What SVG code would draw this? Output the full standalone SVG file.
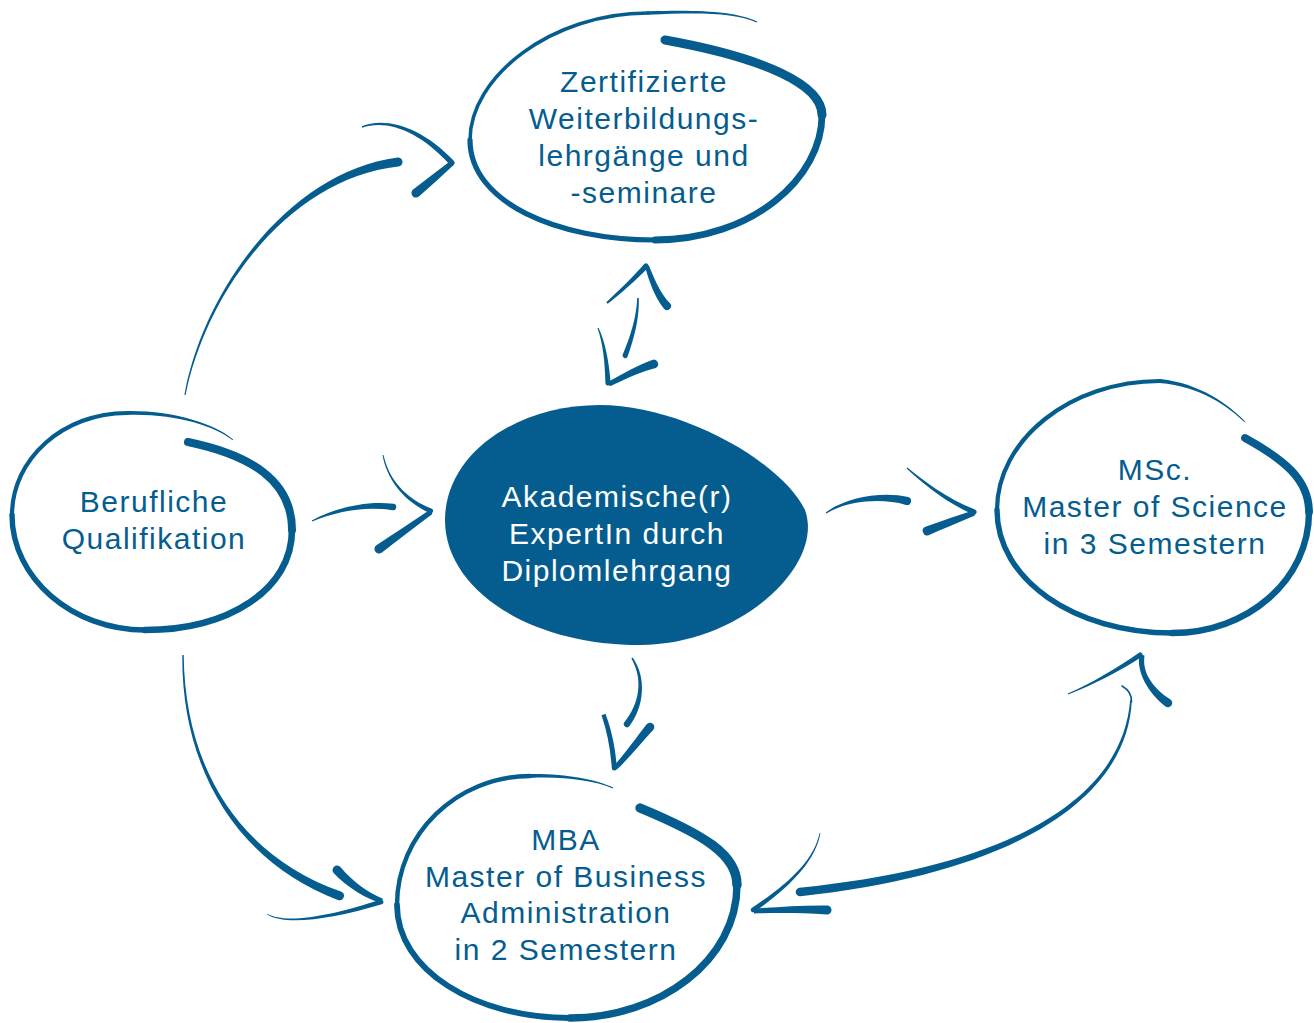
<svg xmlns="http://www.w3.org/2000/svg" width="1314" height="1023" viewBox="0 0 1314 1023">
<style>
.ink{fill:#045d8e}
.loop{fill:none;stroke:#045d8e;stroke-linecap:round;stroke-linejoin:round}
.lbl{font-family:'Liberation Sans',Arial,sans-serif;font-size:30px;letter-spacing:1.5px;text-anchor:middle;fill:#045d8e}
.lbl.inv{fill:#ffffff}
</style>
<rect width="1314" height="1023" fill="#ffffff"/>

<g id="node-zertifizierte">
<path class="ink" d="M756.8,22.4 C734.7,12.7 700,12.3 648.1,14.7 A1.7,1.7 0 0 1 647.9,11.3 C700,9.7 735.3,11.3 757.2,21.6 Z"/>
<path class="loop" stroke-width="3.6" d="M648,13 C551,13 470,77 470,140"/>
<path class="loop" stroke-width="5.2" d="M470,140 C470,203 558,240 655,240"/>
<path class="loop" stroke-width="6.8" d="M655,240 C752,240 822,178 822,115"/>
<path class="loop" stroke-width="9" d="M822,115 C822,85 765,58 665,40"/>
<text class="lbl" x="644" y="92">Zertifizierte</text>
<text class="lbl" x="644" y="129">Weiterbildungs-</text>
<text class="lbl" x="644" y="166">lehrgänge und</text>
<text class="lbl" x="644" y="203">-seminare</text>
</g>

<g id="node-berufliche">
<path class="ink" d="M232.7,440.3 C214.4,425.7 175,413.4 127,414.9 A1.9,1.9 0 0 1 127,411.1 C175,410.6 215.6,424.3 233.3,439.7 Z"/>
<path class="loop" stroke-width="4.2" d="M127,413 C63,413 12,459 12,515"/>
<path class="loop" stroke-width="5.4" d="M12,515 C12,578 72,630 145,630"/>
<path class="loop" stroke-width="6.6" d="M145,630 C228,630 292,590 292,530"/>
<path class="loop" stroke-width="8" d="M292,530 C292,480 250,455 188,442"/>
<text class="lbl" x="154" y="512">Berufliche</text>
<text class="lbl" x="154" y="549">Qualifikation</text>
</g>

<g id="node-akademisch">
<path class="ink" d="M445,520 C445,455 515,405 600,405 C680,405 780,460 805,510 C825,565 740,645 640,645 C530,645 445,590 445,520 Z"/>
<text class="lbl inv" x="617" y="507">Akademische(r)</text>
<text class="lbl inv" x="617" y="544">ExpertIn durch</text>
<text class="lbl inv" x="617" y="581">Diplomlehrgang</text>
</g>

<g id="node-msc">
<path class="ink" d="M1244.7,422.3 C1227.4,405.6 1199.9,386.4 1159.8,382.9 A1.9,1.9 0 0 1 1160.2,379.1 C1200.1,383.6 1228.6,404.4 1245.3,421.7 Z"/>
<path class="loop" stroke-width="4.2" d="M1160,381 C1070,381 997,440 997,510"/>
<path class="loop" stroke-width="5.4" d="M997,510 C997,580 1075,633 1172,633"/>
<path class="loop" stroke-width="6.4" d="M1172,633 C1248,633 1309,580 1309,512"/>
<path class="loop" stroke-width="7.8" d="M1309,512 C1309,480 1285,460 1245,438"/>
<text class="lbl" x="1155" y="480">MSc.</text>
<text class="lbl" x="1155" y="517">Master of Science</text>
<text class="lbl" x="1155" y="554">in 3 Semestern</text>
</g>

<g id="node-mba">
<path class="ink" d="M612.8,788.4 C594.6,780.8 565,776.4 530.1,777.9 A1.9,1.9 0 0 1 529.9,774.1 C565,773.6 595.4,779.2 613.2,787.6 Z"/>
<path class="loop" stroke-width="4.4" d="M530,776 C457,776 397,834 397,905"/>
<path class="loop" stroke-width="5.8" d="M397,905 C397,970 475,1018 570,1018"/>
<path class="loop" stroke-width="7.4" d="M570,1018 C660,1018 737,960 737,885"/>
<path class="loop" stroke-width="9.4" d="M737,885 C737,855 705,835 640,808"/>
<text class="lbl" x="566" y="850">MBA</text>
<text class="lbl" x="566" y="887">Master of Business</text>
<text class="lbl" x="566" y="923">Administration</text>
<text class="lbl" x="566" y="960">in 2 Semestern</text>
</g>

<g id="connectors">
<!-- Berufliche -> Zertifizierte -->
<path class="ink" d="M184.4,394.9 C203.5,289.7 289.6,171.8 397.5,157.5 A4.5,4.5 0 0 1 398.5,166.5 C290.4,178.2 206.5,290.3 185.6,395.1 Z"/>
<path class="ink" d="M361.8,126.2 C384.6,116.5 421.8,126.3 454,161 A2.8,2.8 0 0 1 450,164.9 C418.2,129.7 385.4,119.5 362.2,127.8 Z"/>
<path class="ink" d="M453.6,164.9 C442.1,175.5 430.6,186.1 418.9,196.5 A4.5,4.5 0 0 1 413.1,189.5 C425.4,179.9 437.9,170.5 450.4,161.1 Z"/>
<!-- Zertifizierte <-> Akademisch -->
<path class="ink" d="M606.3,302.3 C618.9,290.8 633.5,276.4 644.2,264.1 A2.6,2.6 0 0 1 647.8,267.9 C636.5,279.6 621.1,293.2 607.7,303.7 Z"/>
<path class="ink" d="M648.9,265.4 C653.7,277.1 659.6,292.6 670,303.3 A4,4 0 0 1 664,308.7 C654.4,297.4 648.3,278.9 645.1,266.6 Z"/>
<path class="ink" d="M638.8,298 C639.5,318 634.1,338.8 627.4,356.9 A2.6,2.6 0 0 1 622.6,355.1 C630,337.2 636.5,318 637.2,298 Z"/>
<path class="ink" d="M598.5,327.8 C605.2,341.5 609,361.9 610.6,382.9 A2.6,2.6 0 0 1 605.4,383.1 C605,362.1 602.8,342.5 597.5,328.2 Z"/>
<path class="ink" d="M608,381.7 C623.8,373.3 638.5,364.5 652.2,359.9 A4.5,4.5 0 0 1 655.8,368.1 C641.5,371.5 626.2,378.7 610,386.3 Z"/>
<!-- Berufliche -> Akademisch -->
<path class="ink" d="M311.8,520.5 C334.2,508.4 365.4,500.2 393.5,503.8 A3.2,3.2 0 0 1 392.5,510.2 C364.6,505.8 335.8,511.6 312.2,521.5 Z"/>
<path class="ink" d="M383.5,454.9 C389,479.8 405.7,498.3 431.9,508.8 A2.4,2.4 0 0 1 430.1,513.2 C404.3,501.7 387,480.2 382.5,455.1 Z"/>
<path class="ink" d="M432.4,514 C415.7,526.5 398.2,540.1 381.6,552.7 A4.5,4.5 0 0 1 376.4,545.3 C393.8,533.9 412.3,521.6 429.6,510 Z"/>
<!-- Akademisch -> MSc -->
<path class="ink" d="M825.7,512.6 C843.9,498.3 880.9,490.7 908,497.1 A4,4 0 0 1 906,504.9 C879.1,497.3 846.1,501.7 826.3,513.4 Z"/>
<path class="ink" d="M907.4,467.5 C922.8,480.1 945.8,498.2 975,509.6 A2.6,2.6 0 0 1 973,514.4 C944.2,501.8 921.2,481.9 906.6,468.5 Z"/>
<path class="ink" d="M974.9,515.4 C959.1,522 943.4,528.6 928.6,535.2 A4.5,4.5 0 0 1 925.4,526.8 C940.6,521.4 956.9,516 973.1,510.6 Z"/>
<!-- Akademisch -> MBA -->
<path class="ink" d="M632.6,657.6 C646.7,676.9 644.4,706.9 629.5,726 A3.2,3.2 0 0 1 624.5,722 C639.6,703.1 643.3,679.1 631.4,658.4 Z"/>
<path class="ink" d="M605.5,713.8 C611.5,730 615.5,748 616.8,767.8 A2.5,2.5 0 0 1 611.8,768.2 C610.5,749 607,731 601.5,715.2 Z"/>
<path class="ink" d="M613.2,766.4 C624.7,754.1 636.2,737.6 646.7,724.2 A4.3,4.3 0 0 1 653.3,729.8 C641.8,742.4 629.3,757.9 616.8,769.6 Z"/>
<!-- Berufliche -> MBA -->
<path class="ink" d="M183.7,655 C184.8,770 241.2,856.7 341.5,891.8 A4.5,4.5 0 0 1 338.5,900.2 C238.8,863.3 181.2,770 182.3,655 Z"/>
<path class="ink" d="M381.2,903.3 C366.9,899 347,887.6 333.6,873 A4.5,4.5 0 0 1 340.4,867.1 C353,882.4 369.1,893 382.8,898.7 Z"/>
<path class="ink" d="M267.2,913.7 C285.5,924.2 329.5,916.3 380.3,899.7 A2.4,2.4 0 0 1 381.7,904.3 C330.5,919.7 284.5,925.9 266.8,914.3 Z"/>
<!-- MSc <-> MBA -->
<path class="loop" stroke-width="1.6" d="M1122,686 C1129,690 1132,695 1131.5,702"/>
<path class="ink" d="M1131.8,700 C1127.8,800.2 1010.4,873.8 800.4,896.2 A4.2,4.2 0 0 1 799.6,887.8 C1009.6,866.2 1122.2,799.8 1130.2,700 Z"/>
<path class="ink" d="M1067.8,693.5 C1091.5,682.9 1116.9,668.3 1138.6,652.9 A2.5,2.5 0 0 1 1141.4,657.1 C1119.1,671.7 1092.5,685.1 1068.2,694.5 Z"/>
<path class="ink" d="M1144.5,655.4 C1142,672.5 1152.1,687.1 1170.5,699.6 A4.2,4.2 0 0 1 1165.5,706.4 C1147.9,692.9 1136,671.5 1139.5,654.6 Z"/>
<path class="ink" d="M820.4,833.1 C816,860.2 791,886.5 754.3,912 A2.4,2.4 0 0 1 751.7,908 C789,883.5 814,859.8 819.6,832.9 Z"/>
<path class="ink" d="M754,908.6 C778,907 802,905.2 827,905.5 A4.5,4.5 0 0 1 827,914.5 C802,912.8 778,913 754,913.4 Z"/>
</g>
</svg>
